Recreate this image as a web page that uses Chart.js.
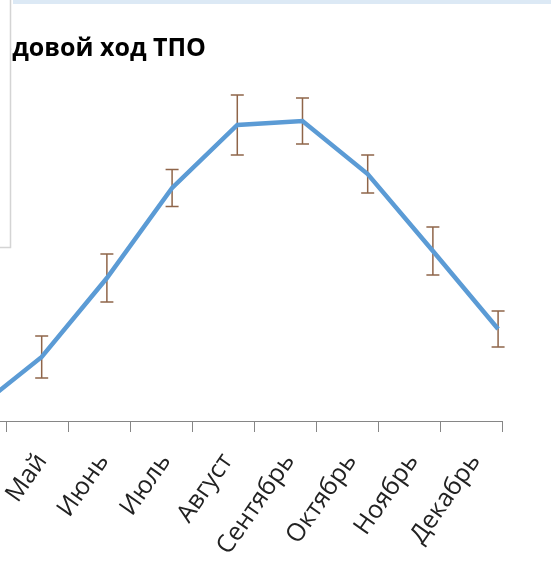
<!DOCTYPE html>
<html>
<head>
<meta charset="utf-8">
<script src="https://cdn.jsdelivr.net/npm/chart.js@4.4.0/dist/chart.umd.min.js"></script>
<style>
    html, body { margin: 0; padding: 0; background: #fff; overflow: hidden; }
    /* the chart is cropped on the left, so the canvas starts off-screen */
    #wrap { position: absolute; left: -60px; top: 0; width: 620px; height: 562px; }
</style>
</head>
<body>
<div id="wrap"><canvas id="chartTPO"></canvas></div>
<script>
// Данные: годовой ход ТПО (видимая часть графика)
const months = ['Апрель', 'Май', 'Июнь', 'Июль', 'Август', 'Сентябрь', 'Октябрь', 'Ноябрь', 'Декабрь'];
const monthIdx = [0, 1, 2, 3, 4, 5, 6, 7, 8];
const tpo = [1.2, 6.4, 14.3, 23.3, 29.6, 30.0, 24.7, 17.0, 9.2];
const tpoErr = [2.0, 2.1, 2.4, 1.85, 3.0, 2.3, 1.9, 2.4, 1.8];
const titleText = 'Годовой ход ТПО';

const OFF = 60; // canvas left offset in page pixels

// error bars, drawn under the line
const errorBars = {
    id: 'errorBars',
    beforeDatasetsDraw(chart) {
        const ctx = chart.ctx;
        const xs = chart.scales.x2;
        const ys = chart.scales.y;
        ctx.save();
        ctx.strokeStyle = '#8f6549';
        ctx.lineWidth = 1.5;
        for (let i = 0; i < tpo.length; i++) {
            const x = xs.getPixelForValue(monthIdx[i]);
            const y1 = ys.getPixelForValue(tpo[i] + tpoErr[i]);
            const y2 = ys.getPixelForValue(tpo[i] - tpoErr[i]);
            ctx.beginPath();
            ctx.moveTo(x, y1); ctx.lineTo(x, y2);
            ctx.moveTo(x - 6.5, y1); ctx.lineTo(x + 6.5, y1);
            ctx.moveTo(x - 6.5, y2); ctx.lineTo(x + 6.5, y2);
            ctx.stroke();
        }
        ctx.restore();
    }
};

// title and the bits of the box that covers the left part
const decor = {
    id: 'decor',
    beforeDraw(chart) {
        const ctx = chart.ctx;
        ctx.save();
        ctx.fillStyle = '#dce9f5';
        ctx.fillRect(OFF + 13, 0, 600, 4);
        ctx.restore();
    },
    afterDraw(chart) {
        const ctx = chart.ctx;
        ctx.save();
        ctx.fillStyle = '#000';
        ctx.font = 'bold 25px "Open Sans"';
        ctx.textAlign = 'right';
        ctx.textBaseline = 'alphabetic';
        ctx.fillText(titleText, OFF + 206, 56);
        // overlapping box hides the start of the title
        ctx.fillStyle = '#fff';
        ctx.fillRect(0, 0, OFF + 10.5, 247.5);
        ctx.strokeStyle = '#d4d4d4';
        ctx.lineWidth = 1.5;
        ctx.beginPath();
        ctx.moveTo(OFF + 10.5, 0);
        ctx.lineTo(OFF + 10.5, 247.5);
        ctx.lineTo(0, 247.5);
        ctx.stroke();
        ctx.restore();
    }
};

const ctx = document.getElementById('chartTPO');
new Chart(ctx.getContext('2d'), {
    type: 'line',
    data: {
        labels: months,
        datasets: [{
            label: 'ТПО',
            data: monthIdx.map((m, i) => ({ x: m, y: tpo[i] })),
            xAxisID: 'x2',
            borderColor: '#5b9bd5',
            borderWidth: 4.5,
            pointRadius: 0,
            fill: false,
            tension: 0
        }]
    },
    options: {
        responsive: true,
        maintainAspectRatio: false,
        animation: false,
        layout: {
            padding: { left: 5, right: 58, top: 21, bottom: 0 }
        },
        plugins: {
            legend: { display: false },
            title: { display: false },
            tooltip: { enabled: false }
        },
        scales: {
            x: {
                type: 'category',
                position: 'bottom',
                offset: true,
                grid: {
                    display: true,
                    offset: true,
                    drawOnChartArea: false,
                    drawTicks: true,
                    tickLength: 11,
                    color: '#868686'
                },
                border: { display: true, color: '#868686', width: 1 },
                ticks: {
                    minRotation: 55,
                    maxRotation: 55,
                    autoSkip: false,
                    padding: 16,
                    labelOffset: 4,
                    color: '#222',
                    font: { family: '"Open Sans"', size: 25 }
                },
                afterFit: function(scale) {
                    scale.height = 141;
                    scale.paddingLeft = 0;
                    scale.paddingRight = 0;
                }
            },
            x2: {
                type: 'linear',
                display: false,
                min: -0.483,
                max: 8.06
            },
            y: {
                display: false,
                min: 0,
                max: 40
            }
        }
    },
    plugins: [errorBars, decor]
});
</script>
</body>
</html>
